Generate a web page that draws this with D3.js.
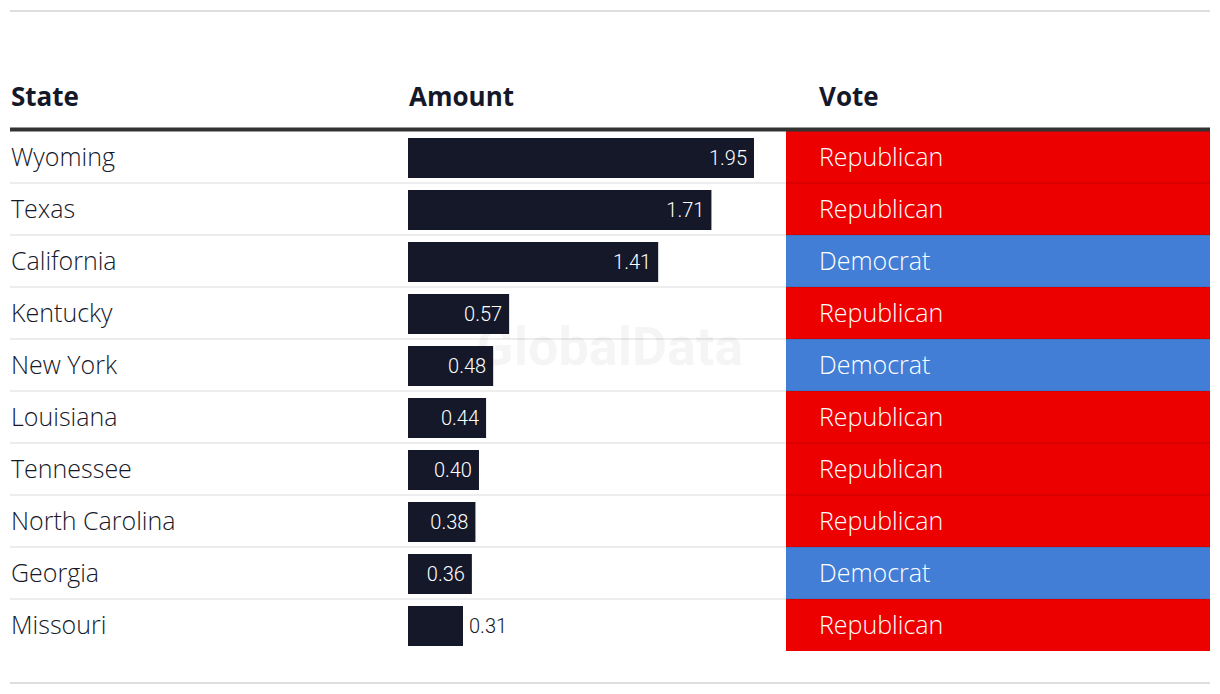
<!DOCTYPE html>
<html>
<head>
<meta charset="utf-8">
<script src="https://cdn.jsdelivr.net/npm/d3@7"></script>
<style>
  html, body { margin: 0; padding: 0; background: #fff; }
  svg { display: block; }
</style>
</head>
<body>
<svg id="chart" width="1220" height="694"></svg>
<script>
const states = ["Wyoming", "Texas", "California", "Kentucky", "New York", "Louisiana", "Tennessee", "North Carolina", "Georgia", "Missouri"];
const amounts = [1.95, 1.71, 1.41, 0.57, 0.48, 0.44, 0.40, 0.38, 0.36, 0.31];
const votes = ["Republican", "Republican", "Democrat", "Republican", "Democrat", "Republican", "Republican", "Republican", "Democrat", "Republican"];
const headers = ["State", "Amount", "Vote"];
const voteColors = { Republican: "#ec0000", Democrat: "#427ed6" };

const data = states.map((s, i) => ({ state: s, amount: amounts[i], vote: votes[i] }));

const svg = d3.select("#chart");
const left = 10, right = 1210;
const headerBase = 106, tableTop = 131, rowH = 52;
const colState = 11, colAmount = 408, colVote = 786, voteTextX = 819;
const font = "'Open Sans', Roboto, sans-serif";
const labelFont = "Roboto, sans-serif";
const ink = "#151829";

// top & bottom rules
svg.append("line").attr("x1", left).attr("x2", right).attr("y1", 11).attr("y2", 11)
  .attr("stroke", "#dedede").attr("stroke-width", 2);
svg.append("line").attr("x1", left).attr("x2", right).attr("y1", 683).attr("y2", 683)
  .attr("stroke", "#dedede").attr("stroke-width", 2);

// watermark
svg.append("text").attr("x", 610).attr("y", 365).attr("text-anchor", "middle")
  .attr("font-family", labelFont).attr("font-weight", 700).attr("font-size", 54)
  .attr("fill", "#000").attr("fill-opacity", 0.04).text("GlobalData");

// headers
const hx = [colState, colAmount + 1, voteTextX];
svg.selectAll("text.hdr").data(headers).join("text").attr("class", "hdr")
  .attr("x", (d, i) => hx[i]).attr("y", headerBase)
  .attr("font-family", font).attr("font-weight", 700).attr("font-size", 26)
  .attr("fill", ink).text(d => d);

const y = d3.scaleBand().domain(states).range([tableTop, tableTop + rowH * states.length]).padding(0);
const x = d3.scaleLinear().domain([0, 1.95]).range([0, 346]);

const rows = svg.selectAll("g.row").data(data).join("g").attr("class", "row")
  .attr("transform", d => `translate(0,${y(d.state)})`);

// vote cells
rows.append("rect").attr("x", colVote).attr("y", 0).attr("width", right - colVote).attr("height", y.bandwidth())
  .attr("fill", d => voteColors[d.vote]);
rows.append("text").attr("x", voteTextX).attr("y", y.bandwidth() / 2).attr("dy", "0.36em")
  .attr("font-family", font).attr("font-weight", 300).attr("font-size", 25)
  .attr("fill", "#fff").text(d => d.vote);

// state names
rows.append("text").attr("x", colState).attr("y", y.bandwidth() / 2).attr("dy", "0.36em")
  .attr("font-family", font).attr("font-weight", 300).attr("font-size", 25)
  .attr("fill", ink).text(d => d.state);

// bars
rows.append("rect").attr("x", colAmount).attr("y", 7).attr("width", d => x(d.amount)).attr("height", 40)
  .attr("fill", ink);
const inside = d => x(d.amount) > 60;
rows.append("text")
  .attr("x", d => inside(d) ? colAmount + x(d.amount) - 7 : colAmount + x(d.amount) + 6)
  .attr("y", 27).attr("dy", "0.36em")
  .attr("text-anchor", d => inside(d) ? "end" : "start")
  .attr("font-family", labelFont).attr("font-weight", 300).attr("font-size", 20)
  .attr("fill", d => inside(d) ? "#fff" : ink)
  .text(d => d3.format(".2f")(d.amount));

// row separators
svg.selectAll("line.sep").data(states.slice(1)).join("line").attr("class", "sep")
  .attr("x1", left).attr("x2", right)
  .attr("y1", d => y(d)).attr("y2", d => y(d))
  .attr("stroke", "#000").attr("stroke-opacity", 0.07).attr("stroke-width", 2);

// header rule
svg.append("line").attr("x1", left).attr("x2", right).attr("y1", 129.5).attr("y2", 129.5)
  .attr("stroke", "#333").attr("stroke-width", 4);
</script>
</body>
</html>
